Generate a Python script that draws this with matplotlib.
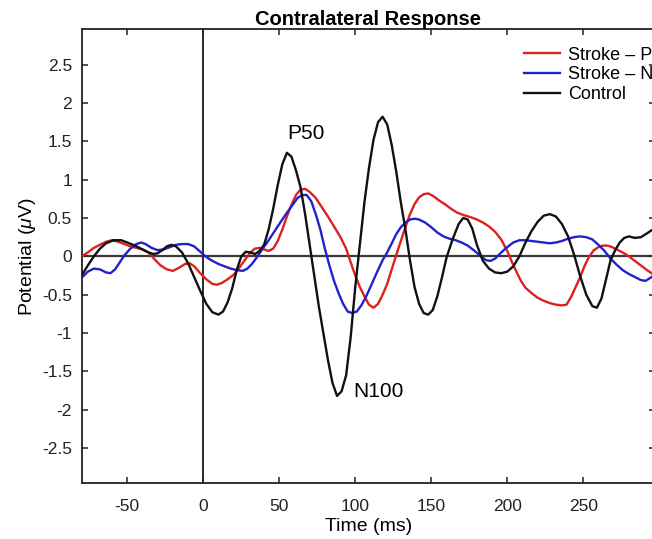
import matplotlib
matplotlib.use("Agg")
import matplotlib.pyplot as plt

plt.rcParams['font.family'] = ['Liberation Sans', 'DejaVu Sans']
plt.rcParams['mathtext.fontset'] = 'custom'
plt.rcParams['mathtext.it'] = 'Liberation Sans:italic'
plt.rcParams['mathtext.rm'] = 'Liberation Sans'

title = "Contralateral Response"
labels = ["Stroke – P", "Stroke – N", "Control"]
xticks = [-50, 0, 50, 100, 150, 200, 250]
yticks = [-2.5, -2, -1.5, -1, -0.5, 0, 0.5, 1, 1.5, 2, 2.5]
ytick_labels = ["-2.5", "-2", "-1.5", "-1", "-0.5", "0", "0.5", "1", "1.5", "2", "2.5"]

control_t = [-80, -76, -72, -68, -64, -59, -54, -50, -45, -40, -36, -33, -30, -27, -24, -21, -18, -14, -10, -6, -2,
             2, 6, 10, 13, 16, 19, 22, 25, 28, 31, 34, 37, 40, 43, 46, 49, 52, 55, 58, 61, 64, 67, 70, 73, 76, 79,
             82, 85, 88, 91, 94, 97, 100, 103, 106, 109, 112, 115, 118, 121, 124, 127, 130, 133, 136, 139, 142, 145,
             148, 151, 154, 157, 160, 164, 168, 171, 174, 177, 180, 184, 188, 192, 196, 200, 204, 208, 212, 216, 220,
             224, 228, 232, 236, 240, 244, 248, 252, 256, 259, 262, 265, 268, 271, 274, 277, 280, 284, 288, 292, 295]
control_v = [-0.25, -0.12, 0.00, 0.10, 0.17, 0.21, 0.21, 0.18, 0.14, 0.09, 0.05, 0.03, 0.04, 0.08, 0.13, 0.15, 0.13,
             0.05, -0.09, -0.27, -0.45, -0.62, -0.73, -0.76, -0.72, -0.60, -0.42, -0.18, 0.00, 0.06, 0.05, 0.03, 0.07,
             0.15, 0.35, 0.62, 0.93, 1.20, 1.35, 1.30, 1.12, 0.90, 0.55, 0.15, -0.25, -0.65, -1.00, -1.35, -1.65,
             -1.82, -1.76, -1.55, -1.05, -0.40, 0.15, 0.70, 1.15, 1.52, 1.75, 1.82, 1.72, 1.45, 1.10, 0.70, 0.35,
             -0.05, -0.40, -0.62, -0.74, -0.76, -0.70, -0.52, -0.28, -0.02, 0.22, 0.42, 0.50, 0.48, 0.36, 0.15,
             -0.06, -0.16, -0.21, -0.22, -0.20, -0.13, 0.00, 0.18, 0.33, 0.45, 0.53, 0.55, 0.52, 0.42, 0.26, 0.02,
             -0.26, -0.50, -0.65, -0.67, -0.55, -0.30, -0.05, 0.08, 0.18, 0.24, 0.26, 0.24, 0.25, 0.30, 0.34]

paretic_t = [-80, -76, -72, -68, -64, -60, -56, -52, -48, -44, -40, -36, -32, -28, -24, -20, -16, -12, -9, -6, -2,
             2, 6, 9, 12, 16, 20, 24, 28, 31, 34, 37, 40, 43, 46, 49, 52, 55, 58, 61, 64, 67, 70, 74, 78, 82, 86, 90,
             94, 97, 100, 103, 106, 109, 112, 115, 118, 121, 124, 127, 130, 133, 136, 139, 142, 145, 148, 151, 155,
             159, 163, 167, 171, 176, 180, 184, 188, 192, 196, 200, 203, 206, 209, 212, 216, 220, 224, 228, 232, 236,
             239, 242, 245, 248, 251, 254, 257, 260, 263, 266, 269, 272, 276, 280, 284, 288, 292, 295]
paretic_v = [0.00, 0.05, 0.11, 0.15, 0.19, 0.21, 0.19, 0.16, 0.13, 0.11, 0.09, 0.05, -0.04, -0.12, -0.17, -0.19,
             -0.15, -0.10, -0.09, -0.13, -0.22, -0.30, -0.36, -0.37, -0.35, -0.30, -0.24, -0.14, -0.03, 0.05, 0.10,
             0.11, 0.09, 0.07, 0.10, 0.20, 0.35, 0.52, 0.67, 0.80, 0.87, 0.88, 0.84, 0.76, 0.64, 0.52, 0.39, 0.26,
             0.10, -0.08, -0.25, -0.40, -0.52, -0.63, -0.67, -0.62, -0.50, -0.36, -0.17, 0.02, 0.20, 0.38, 0.55,
             0.68, 0.77, 0.81, 0.82, 0.79, 0.73, 0.68, 0.62, 0.57, 0.54, 0.51, 0.48, 0.44, 0.39, 0.32, 0.22, 0.07,
             -0.07, -0.20, -0.32, -0.41, -0.48, -0.54, -0.58, -0.61, -0.63, -0.64, -0.63, -0.53, -0.40, -0.27,
             -0.12, 0.00, 0.08, 0.12, 0.14, 0.14, 0.12, 0.09, 0.05, 0.00, -0.06, -0.12, -0.18, -0.22]

nonparetic_t = [-80, -76, -72, -68, -64, -61, -58, -55, -52, -48, -44, -41, -38, -34, -30, -26, -22, -18, -14, -10,
                -6, -2, 2, 6, 10, 14, 18, 22, 26, 29, 32, 35, 38, 42, 46, 50, 54, 58, 62, 65, 68, 71, 74, 77, 80, 83,
                86, 89, 92, 95, 98, 101, 104, 107, 110, 114, 118, 121, 124, 127, 130, 133, 136, 139, 142, 146, 150,
                154, 158, 162, 166, 170, 174, 178, 182, 186, 189, 192, 196, 200, 204, 208, 212, 216, 220, 224, 228,
                232, 236, 240, 244, 248, 252, 256, 260, 264, 268, 272, 276, 280, 284, 288, 291, 295]
nonparetic_v = [-0.28, -0.20, -0.16, -0.17, -0.21, -0.22, -0.17, -0.08, 0.01, 0.10, 0.16, 0.18, 0.16, 0.11, 0.08,
                0.09, 0.12, 0.15, 0.16, 0.16, 0.13, 0.06, -0.01, -0.06, -0.10, -0.13, -0.16, -0.18, -0.19, -0.16,
                -0.10, -0.02, 0.07, 0.18, 0.30, 0.42, 0.54, 0.65, 0.76, 0.80, 0.80, 0.72, 0.55, 0.35, 0.10, -0.12,
                -0.32, -0.48, -0.62, -0.72, -0.74, -0.72, -0.64, -0.53, -0.40, -0.22, -0.05, 0.05, 0.17, 0.29, 0.38,
                0.44, 0.48, 0.49, 0.48, 0.44, 0.38, 0.31, 0.26, 0.23, 0.21, 0.18, 0.14, 0.08, 0.01, -0.05, -0.06,
                -0.03, 0.05, 0.12, 0.18, 0.21, 0.21, 0.20, 0.19, 0.18, 0.17, 0.18, 0.20, 0.23, 0.25, 0.26, 0.25,
                0.22, 0.15, 0.07, -0.03, -0.11, -0.18, -0.23, -0.27, -0.31, -0.32, -0.27]

fig = plt.figure(figsize=(6.52, 5.39), dpi=100)
ax = fig.add_axes([0.1253, 0.1033, 0.8788, 0.8423])

ax.axhline(0, color='#3a3a3a', lw=1.6, zorder=1)
ax.axvline(0, color='#1a1a1a', lw=1.3, zorder=1)

ax.plot(paretic_t, paretic_v, color='#dd2020', lw=1.7, label=labels[0], zorder=3)
ax.plot(nonparetic_t, nonparetic_v, color='#2222cc', lw=1.7, label=labels[1], zorder=3)
ax.plot(control_t, control_v, color='#111111', lw=1.7, label=labels[2], zorder=4)

ax.set_xlim(-80, 297)
ax.set_ylim(-2.96, 2.96)
ax.set_xticks(xticks)
ax.set_xticklabels([str(x) for x in xticks])
ax.set_yticks(yticks)
ax.set_yticklabels(ytick_labels)
ax.tick_params(direction='in', length=4, width=1.1, top=True, right=True, labelsize=12.5,
               colors='#222222')
ax.tick_params(axis='x', pad=11)
ax.tick_params(axis='y', pad=7)
for s in ax.spines.values():
    s.set_linewidth(1.3)
    s.set_color('#222222')

ax.set_title(title, fontsize=14.5, fontweight='bold', pad=3)
ax.set_xlabel("Time (ms)", fontsize=14, labelpad=3)
ax.set_ylabel(r"Potential ($\mu$V)", fontsize=14, labelpad=3)

ax.text(67.5, 1.6, "P50", fontsize=15, ha='center', va='center')
ax.text(115.5, -1.76, "N100", fontsize=15, ha='center', va='center')

leg = ax.legend(loc='upper left', bbox_to_anchor=(0.772, 0.962), frameon=False, fontsize=13,
                handlelength=2.0, handletextpad=0.45, labelspacing=0.16, borderaxespad=0, borderpad=0)

fig.savefig("out.png", dpi=100)
